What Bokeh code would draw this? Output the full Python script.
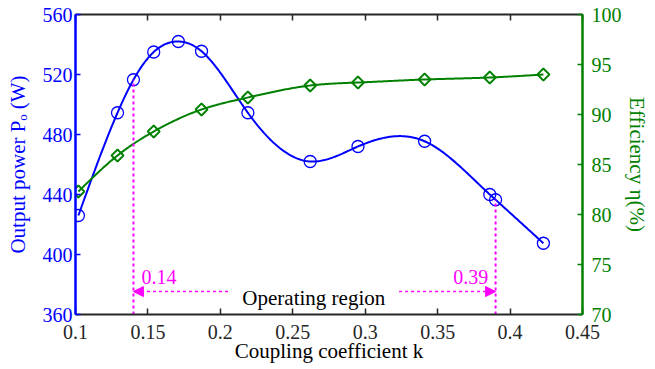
import numpy as np
from bokeh.plotting import figure
from bokeh.models import Range1d, LinearAxis, FixedTicker, Label, Arrow, NormalHead
from bokeh.embed import file_html
from bokeh.resources import INLINE

# ---------------- data ----------------
k_power = [0.102, 0.129, 0.140, 0.154, 0.171, 0.187, 0.219, 0.262, 0.295, 0.341, 0.386, 0.390, 0.423]
power_w = [426.0, 494.5, 516.5, 535.0, 542.0, 535.5, 494.5, 462.0, 472.0, 475.5, 440.0, 436.5, 407.5]

k_eff = [0.102, 0.129, 0.154, 0.187, 0.219, 0.262, 0.295, 0.341, 0.386, 0.423]
eff_pct = [82.3, 85.9, 88.3, 90.5, 91.7, 92.9, 93.2, 93.5, 93.7, 94.0]

region_k = [0.14, 0.39]
region_labels = ["0.14", "0.39"]

x_ticks = [0.1, 0.15, 0.2, 0.25, 0.3, 0.35, 0.4, 0.45]
x_tick_labels = ["0.1", "0.15", "0.2", "0.25", "0.3", "0.35", "0.4", "0.45"]
p_ticks = [360, 400, 440, 480, 520, 560]
eff_ticks = [70, 75, 80, 85, 90, 95, 100]

BLUE = "#0000FF"
GREEN = "#008000"
MAGENTA = "#FF00FF"
DARK = "#262626"
FONT = "Liberation Serif"


def natural_spline(xk, yk, xs):
    x = np.asarray(xk, float)
    y = np.asarray(yk, float)
    n = len(x)
    h = np.diff(x)
    A = np.zeros((n, n))
    b = np.zeros(n)
    A[0, 0] = 1.0
    A[-1, -1] = 1.0
    for i in range(1, n - 1):
        A[i, i - 1] = h[i - 1]
        A[i, i] = 2 * (h[i - 1] + h[i])
        A[i, i + 1] = h[i]
        b[i] = 6 * ((y[i + 1] - y[i]) / h[i] - (y[i] - y[i - 1]) / h[i - 1])
    M = np.linalg.solve(A, b)
    idx = np.clip(np.searchsorted(x, xs) - 1, 0, n - 2)
    x0 = x[idx]
    x1 = x[idx + 1]
    hh = x1 - x0
    t0 = x1 - xs
    t1 = xs - x0
    return (M[idx] * t0 ** 3 / (6 * hh) + M[idx + 1] * t1 ** 3 / (6 * hh)
            + (y[idx] / hh - M[idx] * hh / 6) * t0 + (y[idx + 1] / hh - M[idx + 1] * hh / 6) * t1)


xs_p = np.linspace(k_power[0], k_power[-1], 400)
ys_p = natural_spline(k_power, power_w, xs_p)
xs_e = np.linspace(k_eff[0], k_eff[-1], 400)
ys_e = natural_spline(k_eff, eff_pct, xs_e)

# ---------------- figure ----------------
p = figure(frame_width=507, frame_height=300,
           x_range=Range1d(0.1, 0.45), y_range=Range1d(360, 560),
           output_backend="svg", toolbar_location=None,
           min_border_left=75, min_border_right=73, min_border_top=14, min_border_bottom=55)
p.outline_line_color = None
p.xgrid.visible = False
p.ygrid.visible = False
p.background_fill_color = "white"
p.border_fill_color = "white"
p.extra_y_ranges = {"eff": Range1d(70, 100)}


def style_axis(ax, color, line_color, tick_in, standoff):
    ax.major_tick_in = tick_in
    ax.major_tick_out = 0
    ax.minor_tick_line_color = None
    ax.axis_line_color = line_color
    ax.major_tick_line_color = line_color
    ax.major_tick_line_width = 1.5
    ax.major_label_text_font = FONT
    ax.major_label_text_font_size = "20px"
    ax.major_label_text_color = color
    ax.major_label_standoff = standoff
    ax.axis_label_text_font = FONT
    ax.axis_label_text_font_size = "21px"
    ax.axis_label_text_font_style = "normal"


# bottom axis
xa = p.xaxis[0]
xa.ticker = FixedTicker(ticks=x_ticks)
xa.major_label_overrides = {t: s for t, s in zip(x_ticks, x_tick_labels)}
style_axis(xa, DARK, DARK, 6, 10)
xa.axis_line_width = 2
xa.axis_label = "Coupling coefficient k"
xa.axis_label_text_color = "black"
xa.axis_label_standoff = -3

# left axis
ya = p.yaxis[0]
ya.ticker = FixedTicker(ticks=p_ticks)
style_axis(ya, BLUE, BLUE, 5, 3)
ya.axis_line_width = 2.5
ya.axis_label = "Output power P\u2092 (W)"
ya.axis_label_text_color = BLUE
ya.axis_label_standoff = 10

# right axis
ra = LinearAxis(y_range_name="eff", ticker=FixedTicker(ticks=eff_ticks))
style_axis(ra, GREEN, GREEN, 5, 9)
ra.axis_line_width = 2.5
ra.axis_label = "Efficiency \u03b7(%)"
ra.axis_label_text_color = GREEN
ra.axis_label_standoff = 0
p.add_layout(ra, "right")

# top axis (box edge with ticks)
ta = LinearAxis(ticker=FixedTicker(ticks=x_ticks))
ta.major_tick_in = 6
ta.major_tick_out = 0
ta.minor_tick_line_color = None
ta.axis_line_color = DARK
ta.axis_line_width = 2
ta.major_tick_line_color = DARK
ta.major_tick_line_width = 1.5
ta.major_label_text_color = None
ta.major_label_text_font_size = "1px"
ta.major_label_standoff = 0
p.add_layout(ta, "above")

# ---------------- series ----------------
p.line(xs_p, ys_p, line_color=BLUE, line_width=2)
p.scatter(k_power, power_w, marker="circle", size=12, fill_color=None,
          line_color=BLUE, line_width=1.3)

p.line(xs_e, ys_e, line_color=GREEN, line_width=2, y_range_name="eff")
p.scatter(k_eff, eff_pct, marker="square", angle=np.pi / 4, size=8.5, fill_color=None,
          line_color=GREEN, line_width=1.8, y_range_name="eff")

# ---------------- operating region ----------------
region_p = [power_w[k_power.index(k)] for k in region_k]
p.segment(x0=region_k, y0=[360, 360], x1=region_k, y1=region_p,
          line_color=MAGENTA, line_width=2, line_dash="3 3")

arrow_y = 375.3
p.add_layout(Arrow(end=NormalHead(size=10, fill_color=MAGENTA, line_color=MAGENTA),
                   x_start=0.2053, y_start=arrow_y, x_end=region_k[0], y_end=arrow_y,
                   line_color=MAGENTA, line_width=1.6, line_dash="3 3"))
p.add_layout(Arrow(end=NormalHead(size=10, fill_color=MAGENTA, line_color=MAGENTA),
                   x_start=0.3234, y_start=arrow_y, x_end=region_k[1], y_end=arrow_y,
                   line_color=MAGENTA, line_width=1.6, line_dash="3 3"))

p.add_layout(Label(x=0.2645, y=370.7, text="Operating region", text_align="center",
                   text_baseline="alphabetic", text_font=FONT, text_font_size="21px",
                   text_color="black"))
p.add_layout(Label(x=0.1455, y=384.9, text=region_labels[0], text_align="left",
                   text_baseline="alphabetic", text_font=FONT, text_font_size="20px",
                   text_color=MAGENTA))
p.add_layout(Label(x=0.385, y=384.9, text=region_labels[1], text_align="right",
                   text_baseline="alphabetic", text_font=FONT, text_font_size="20px",
                   text_color=MAGENTA))

open("out.html", "w").write(file_html(p, INLINE))
